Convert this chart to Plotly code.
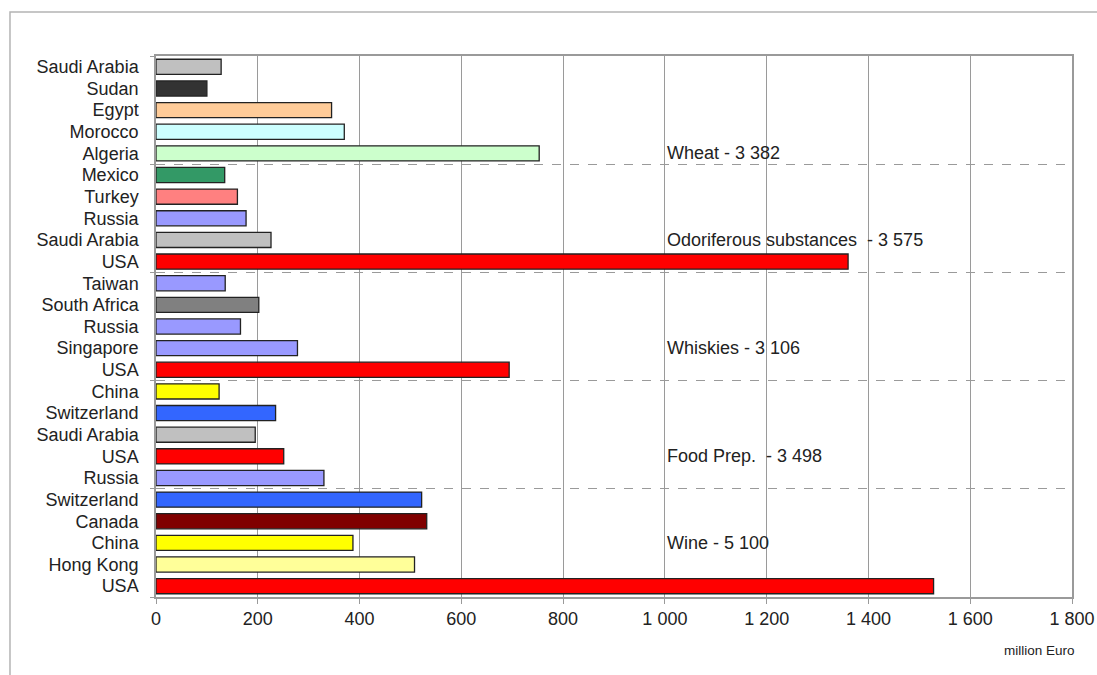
import plotly.graph_objects as go

# ---- data ----
countries = [
    "Saudi Arabia", "Sudan", "Egypt", "Morocco", "Algeria",
    "Mexico", "Turkey", "Russia", "Saudi Arabia", "USA",
    "Taiwan", "South Africa", "Russia", "Singapore", "USA",
    "China", "Switzerland", "Saudi Arabia", "USA", "Russia",
    "Switzerland", "Canada", "China", "Hong Kong", "USA",
]
values = [
    128, 100, 345, 370, 753,
    135, 160, 177, 226, 1360,
    136, 202, 166, 278, 694,
    124, 235, 195, 251, 330,
    522, 532, 387, 508, 1528,
]
group_labels = [
    "Wheat - 3 382",
    "Odoriferous substances  - 3 575",
    "Whiskies - 3 106",
    "Food Prep.  - 3 498",
    "Wine - 5 100",
]
x_ticks = [0, 200, 400, 600, 800, 1000, 1200, 1400, 1600, 1800]
x_ticklabels = ["0", "200", "400", "600", "800", "1 000", "1 200", "1 400", "1 600", "1 800"]
unit_label = "million Euro"

# ---- styles ----
country_colors = {
    "Saudi Arabia": "#c0c0c0",
    "Sudan": "#333333",
    "Egypt": "#ffcc99",
    "Morocco": "#ccffff",
    "Algeria": "#ccffcc",
    "Mexico": "#339966",
    "Turkey": "#ff8080",
    "Russia": "#9999ff",
    "USA": "#ff0000",
    "Taiwan": "#9999ff",
    "South Africa": "#808080",
    "Singapore": "#9999ff",
    "China": "#ffff00",
    "Switzerland": "#3366ff",
    "Canada": "#800000",
    "Hong Kong": "#ffff99",
}
FONT = "Liberation Sans, Arial, sans-serif"
TXT = "#222222"
GRID = "#9a9a9a"
FS = 18

n = len(countries)
ypos = list(range(n))
colors = [country_colors[c] for c in countries]

fig = go.Figure(
    go.Bar(
        x=values,
        y=ypos,
        orientation="h",
        width=0.7,
        marker=dict(color=colors, line=dict(color="#222222", width=1.3)),
        hoverinfo="x",
    )
)

group_size = 5
boundaries = [i - 0.5 for i in range(0, n + 1, group_size)]
label_rows = [4, 8, 13, 18, 22]

annotations = []
for lab, r in zip(group_labels, label_rows):
    annotations.append(dict(
        x=1000, y=r, xref="x", yref="y", text=lab, showarrow=False,
        xanchor="left", yanchor="middle", xshift=0,
        font=dict(family=FONT, size=FS, color=TXT),
    ))
annotations.append(dict(
    x=0.965, y=-0.098, xref="paper", yref="paper", text=unit_label,
    showarrow=False, xanchor="center", yanchor="middle",
    font=dict(family=FONT, size=13.5, color=TXT),
))

fig.update_layout(
    width=1097, height=675,
    margin=dict(l=156, r=25, t=56, b=78),
    paper_bgcolor="white", plot_bgcolor="white",
    showlegend=False,
    font=dict(family=FONT, size=FS, color=TXT),
    annotations=annotations,
    shapes=[dict(
        type="rect", xref="paper", yref="paper",
        x0=-0.1594, x1=1.1, y0=-0.4, y1=1.0813,
        line=dict(color="#b4b4b4", width=1.5), layer="below",
    )],
)

fig.update_xaxes(
    range=[0, 1800], automargin=False,
    tickvals=x_ticks, ticktext=x_ticklabels,
    showgrid=True, gridcolor=GRID, gridwidth=1,
    showline=True, linecolor=GRID, linewidth=1.5, mirror=True,
    ticks="outside", ticklen=5, tickcolor=GRID,
    tickfont=dict(family=FONT, size=FS, color=TXT),
    zeroline=False,
)
fig.update_yaxes(
    range=[n - 0.5, -0.5], automargin=False,
    tickvals=ypos, ticktext=countries,
    showgrid=False,
    showline=True, linecolor=GRID, linewidth=1.5, mirror=True,
    ticks="", ticklabelstandoff=12,
    tickfont=dict(family=FONT, size=FS, color=TXT),
    zeroline=False,
    minor=dict(
        tickmode="array", tickvals=boundaries,
        ticks="outside", ticklen=4, tickcolor=GRID,
        showgrid=True, gridcolor=GRID, griddash="dash", gridwidth=1,
    ),
)

fig.write_html(
    "out.html",
    config={"displayModeBar": False},
    post_script="document.body.style.margin='0';document.body.style.overflow='hidden';",
)
